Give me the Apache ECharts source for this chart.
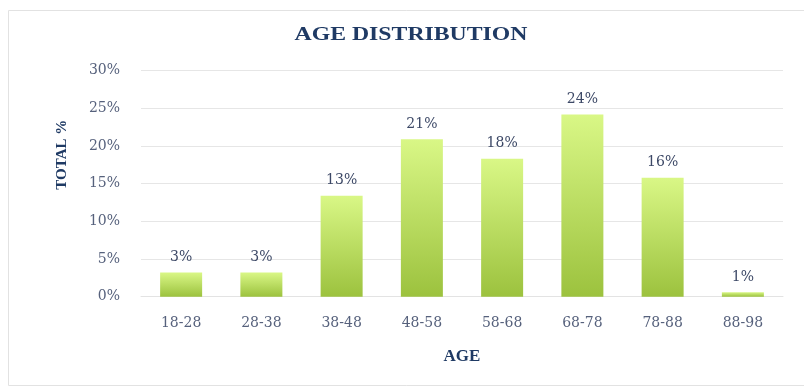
<!DOCTYPE html>
<html>
<head>
<meta charset="utf-8">
<script src="https://cdn.jsdelivr.net/npm/echarts@6/dist/echarts.min.js"></script>
<style>
  html, body { margin: 0; padding: 0; background: #ffffff; }
  #chart { width: 804px; height: 388px; }
</style>
</head>
<body>
<div id="chart"></div>
<script>
// Age bands and their share of the total (percent)
const ageBands = ['18-28', '28-38', '38-48', '48-58', '58-68', '68-78', '78-88', '88-98'];
const sharePct = [3.2, 3.2, 13.4, 20.9, 18.3, 24.2, 15.8, 0.6];
const yTicks = { min: 0, max: 30, interval: 5 };
const chartTitle = 'AGE DISTRIBUTION';

const serif = '"DejaVu Serif", "Liberation Serif", serif';
const times = '"Liberation Serif", "Times New Roman", serif';
const navy = '#1f3a64';
const tickGrey = '#56617c';

const chart = echarts.init(document.getElementById('chart'), null, { renderer: 'canvas' });

chart.setOption({
  animation: false,
  backgroundColor: '#ffffff',
  graphic: [
    {
      type: 'rect',
      shape: { x: 8.5, y: 10.5, width: 800, height: 375 },
      style: { fill: 'none', stroke: '#e2e2e2', lineWidth: 1 },
      silent: true
    },
    {
      // wide bold heading, stretched horizontally
      type: 'text',
      x: 411,
      y: 35,
      scaleX: 1.25,
      style: {
        text: chartTitle,
        font: 'bold 19px ' + times,
        fill: navy,
        align: 'center',
        verticalAlign: 'middle'
      },
      silent: true
    }
  ],
  grid: { left: 141, right: 21, top: 70.7, bottom: 91.3 },
  xAxis: {
    type: 'category',
    data: ageBands,
    name: 'AGE',
    nameLocation: 'middle',
    nameGap: 51,
    nameTextStyle: { fontFamily: times, fontSize: 17, fontWeight: 'bold', color: navy },
    axisLine: { show: true, lineStyle: { color: '#e3e3e3' } },
    axisTick: { show: false },
    axisLabel: { fontFamily: serif, fontSize: 14, color: tickGrey, margin: 20 }
  },
  yAxis: {
    type: 'value',
    min: yTicks.min,
    max: yTicks.max,
    interval: yTicks.interval,
    name: 'TOTAL %',
    nameLocation: 'middle',
    nameGap: 71,
    nameTextStyle: { fontFamily: times, fontSize: 15, fontWeight: 'bold', color: navy, padding: [0, 0, 0, 58] },
    axisLine: { show: false },
    axisTick: { show: false },
    axisLabel: { fontFamily: serif, fontSize: 14, color: tickGrey, margin: 21, formatter: '{value}%' },
    splitLine: { lineStyle: { color: '#e6e6e6', width: 1 } }
  },
  series: [{
    type: 'bar',
    data: sharePct,
    barWidth: 42,
    itemStyle: {
      color: new echarts.graphic.LinearGradient(0, 0, 0, 1, [
        { offset: 0, color: '#d9f786' },
        { offset: 1, color: '#9cc23e' }
      ])
    },
    label: {
      show: true,
      position: 'top',
      distance: 8,
      fontFamily: serif,
      fontSize: 14,
      color: '#3c4866',
      formatter: p => Math.round(p.value) + '%'
    }
  }]
});
</script>
</body>
</html>
